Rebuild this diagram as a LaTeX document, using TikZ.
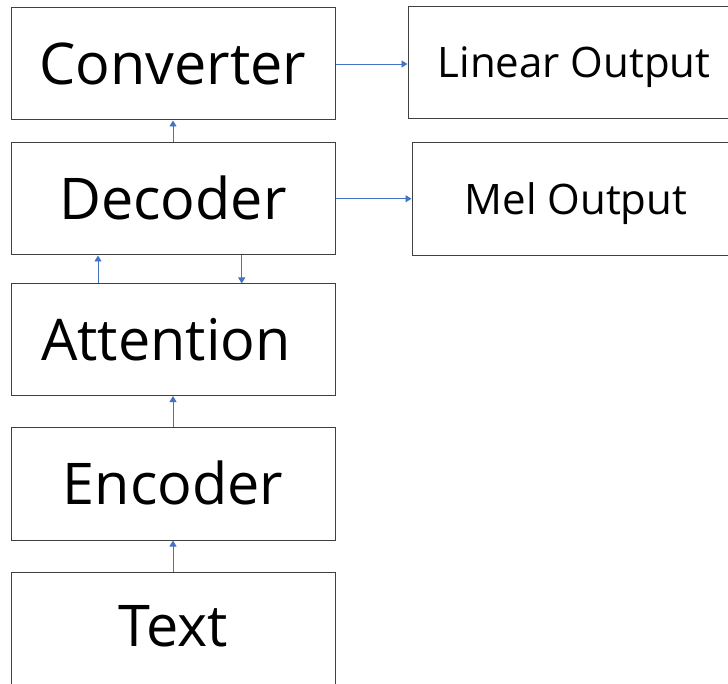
\documentclass[tikz,border=0pt]{standalone}
\usepackage{fontspec}
\setmainfont{Open Sans}[Ligatures=NoCommon]
\usetikzlibrary{arrows.meta}
\definecolor{boxline}{HTML}{404040}
\definecolor{flow}{HTML}{4472C4}
\begin{document}
\begin{tikzpicture}[x=1pt,y=-1pt,
  stage/.style={draw=boxline, line width=1pt, inner sep=0pt,
    minimum width=324pt, text height=41pt, text depth=0pt,
    font=\fontsize{57.5}{69}\selectfont},
  outbox/.style={draw=boxline, line width=1pt, inner sep=0pt,
    text height=30pt, text depth=0pt,
    font=\fontsize{42}{50}\selectfont},
  flowarrow/.style={draw=flow, line width=0.9pt,
    -{Triangle[length=6pt,width=7pt]}}]
  \path[use as bounding box, clip] (0,0) rectangle (728,684);

  % main pipeline
  \node[stage, minimum height=112pt] (conv) at (173,64) {Converter};
  \node[stage, minimum height=112.5pt] (dec) at (173,198.75) {Decoder};
  \node[stage, minimum height=111.5pt] (att) at (173,339.75) {Attention\hspace{14pt}\mbox{}};
  \node[stage, minimum height=113pt] (enc) at (173,483.5) {Encoder};
  \node[stage, minimum height=130pt, text depth=22pt] (txt) at (173,637) {Text};

  % outputs
  \node[outbox, minimum width=332pt, minimum height=112pt] (lin) at (574,63) {Linear Output};
  \node[outbox, minimum width=328pt, minimum height=113pt] (mel) at (576,199.5) {Mel Output};

  % connectors
  \draw[flowarrow] (txt.north) -- (enc.south);
  \draw[flowarrow] (enc.north) -- (att.south);
  \draw[flowarrow] ([xshift=-75pt]att.north) -- ([xshift=-75pt]att.north |- dec.south);
  \draw[flowarrow] ([xshift=68.7pt]dec.south) -- ([xshift=68.7pt]dec.south |- att.north);
  \draw[flowarrow] (dec.north) -- (conv.south);
  \draw[flowarrow] (conv.east) -- (conv.east -| lin.west);
  \draw[flowarrow] (dec.east) -- (dec.east -| mel.west);
\end{tikzpicture}
\end{document}
